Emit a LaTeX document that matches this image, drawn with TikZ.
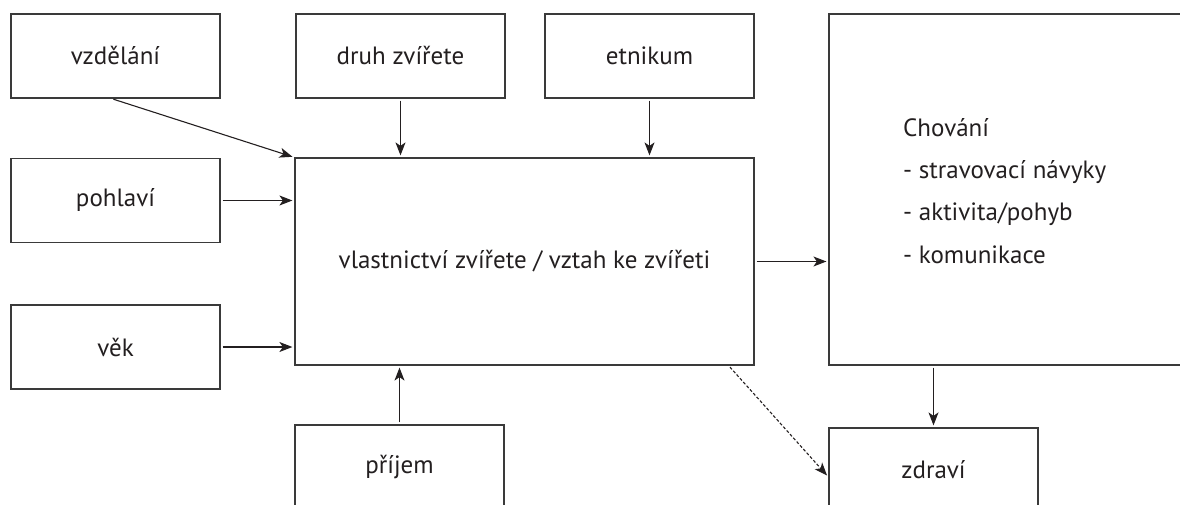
\documentclass[tikz,border=0pt]{standalone}
\usepackage{fontspec}
\setmainfont{PT Sans}
\usetikzlibrary{arrows.meta,calc}
\definecolor{ink}{HTML}{231F20}
\definecolor{edge}{HTML}{3A3A3A}
\tikzset{
  box/.style={draw=edge, line width=1.2pt, inner sep=0pt, minimum width=209pt, minimum height=84pt, text=ink, font=\fontsize{25}{30}\selectfont},
  conn/.style={draw=ink, line width=1.1pt, -{Stealth[length=13pt,width=10pt,inset=3.5pt]}, shorten <=2pt, shorten >=2pt},
  dconn/.style={conn, dash pattern=on 3pt off 2pt}
}
\begin{document}
\begin{tikzpicture}[x=1pt,y=-1pt]
\useasboundingbox (0,0) rectangle (1180,505);
\clip (0,0) rectangle (1180,505);
\node[box] (vzd) at (115.5,56) {vzdělání};
\node[box] (pohl) at (115.5,200.5) {pohlaví};
\node[box] (vek) at (115.5,347) {věk};
\node[box] (druh) at (400.5,56) {druh zvířete};
\node[box] (etn) at (649.5,56) {etnikum};
\node[box, minimum width=459pt, minimum height=207pt] (main) at (524.5,261.5) {vlastnictví zvířete / vztah ke zvířeti};
\node[box, minimum width=421pt, minimum height=351pt] (chov) at (1039.5,189.5) {};
\node[box] (zdr) at (933.5,470) {zdraví};
\node[box] (prij) at (399.5,467) {příjem};
\begin{scope}[every node/.style={anchor=base west, inner sep=0pt, text=ink, font=\fontsize{25}{30}\selectfont}]
\node (t1) at (903,137) {Chování};
\node (t2) at (903,179) {- stravovací návyky};
\node (t3) at (903,221) {- aktivita/pohyb};
\node (t4) at (903,263) {- komunikace};
\end{scope}
\draw[conn] ($(vzd.south)+(-4,0)$) -- (main.north west);
\draw[conn] (pohl.east) -- (pohl.east -| main.west);
\draw[conn] (vek.east) -- (vek.east -| main.west);
\draw[conn] (druh.south) -- (druh.south |- main.north);
\draw[conn] (etn.south) -- (etn.south |- main.north);
\draw[conn] (main.east) -- (main.east -| chov.west);
\draw[conn] (prij.north) -- (prij.north |- main.south);
\draw[conn] (zdr.north |- chov.south) -- (zdr.north);
\draw[dconn] ($(main.south east)+(-26,0)$) -- ($(zdr.west)+(0,7)$);
\end{tikzpicture}
\end{document}
